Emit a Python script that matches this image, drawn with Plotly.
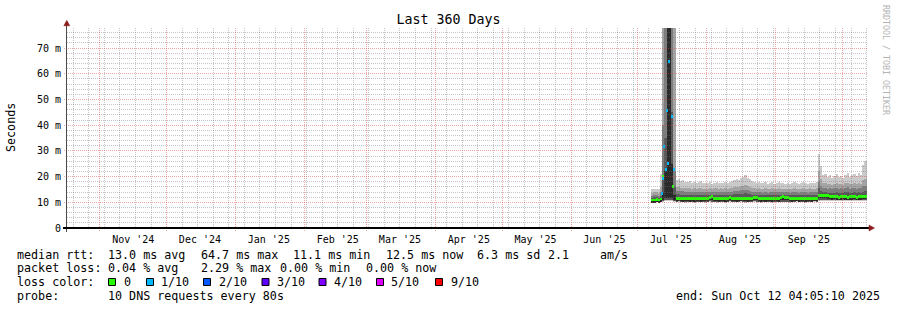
import math
import pandas as pd
import plotly.graph_objects as go

# ---------------- chart data ----------------
TITLE = "Last 360 Days"
Y_AXIS_TITLE = "Seconds"
WATERMARK = "RRDTOOL / TOBI OETIKER"
X_START = "2024-10-17 04:05:10"
X_END = "2025-10-12 04:05:10"
Y_MAX = 77.8

month_starts = ["2024-11-01", "2024-12-01", "2025-01-01", "2025-02-01", "2025-03-01", "2025-04-01",
                "2025-05-01", "2025-06-01", "2025-07-01", "2025-08-01", "2025-09-01", "2025-10-01"]
month_label_dates = ["2024-11-16", "2024-12-16", "2025-01-16", "2025-02-16", "2025-03-16", "2025-04-16",
                     "2025-05-16", "2025-06-16", "2025-07-16", "2025-08-16", "2025-09-16"]
month_labels = ["Nov '24", "Dec '24", "Jan '25", "Feb '25", "Mar '25", "Apr '25",
                "May '25", "Jun '25", "Jul '25", "Aug '25", "Sep '25"]
y_tick_values = [0, 10, 20, 30, 40, 50, 60, 70]
y_tick_labels = ["0", "10 m", "20 m", "30 m", "40 m", "50 m", "60 m", "70 m"]

FIRST_BIN = "2025-07-07 12:00"   # daily bins, Jul 7 .. Oct 11 2025

# smoke layer 1 (outermost, lightest)
outer_bottom = [9.9, 9.9, 10.0, 9.9, 10.1,
                10.3, 10.5, 10.6, 10.6, 10.5, 10.3,
                10.0, 10.1, 10.0, 10.0, 9.9, 10.0, 10.0,
                10.0, 9.9, 10.0, 10.0, 10.1, 10.0, 9.9,
                10.0, 10.1, 10.0, 10.0, 9.9, 10.0, 10.0,
                10.0, 9.9, 10.0, 10.1, 10.0, 10.0, 10.0,
                10.0, 10.1, 10.0, 9.9, 10.0, 10.0, 10.0,
                10.1, 10.0, 10.0, 9.9, 10.0, 10.0, 10.0,
                10.0, 9.9, 10.0, 10.0, 10.1, 10.0, 10.0,
                10.0, 10.0, 9.9, 10.0, 10.0, 10.1, 10.0,
                10.0, 10.0, 9.9, 10.0, 10.0, 10.0, 10.1, 10.0,
                10.5, 10.6, 10.5, 10.4, 10.5, 10.5, 10.4, 10.5, 10.5, 10.4, 10.5,
                10.5, 10.4, 10.5, 10.5, 10.5, 10.4, 10.5, 10.5, 10.4, 10.5, 10.6]
outer_top = [15.0, 15.3, 15.2, 15.0, 21.0,
             200, 200, 200, 200, 200, 200,
             18.5, 19.0, 18.2, 18.6, 17.8, 18.0, 18.4,
             17.6, 18.0, 17.5, 17.8, 18.2, 17.6, 17.4,
             17.5, 17.9, 17.3, 17.6, 18.0, 17.5, 17.7,
             17.6, 18.0, 17.4, 17.8, 18.1, 18.6, 19.0,
             18.7, 19.3, 19.8, 20.5, 19.6, 19.0, 18.4,
             18.0, 17.6, 17.9, 17.5, 17.4, 17.8, 17.2,
             17.6, 17.9, 17.3, 17.5, 17.8, 17.4, 17.6,
             17.3, 17.6, 17.2, 17.5, 17.8, 17.4, 17.2,
             17.6, 17.9, 17.5, 17.3, 17.7, 17.4, 17.6, 17.8,
             28.8, 24.0, 20.5, 21.0, 19.8, 20.6, 19.5, 20.2, 21.2, 19.8, 20.4,
             19.6, 20.8, 21.4, 19.9, 20.5, 21.0, 20.2, 21.3, 20.6, 24.5, 26.0]

# smoke layers 2-4 share one bottom
inner_bottom = [10.1, 10.1, 10.2, 10.1, 10.3,
                10.6, 10.8, 11.0, 11.0, 10.8, 10.5,
                10.3, 10.4, 10.3, 10.3, 10.2, 10.3, 10.3,
                10.3, 10.2, 10.3, 10.3, 10.4, 10.3, 10.2,
                10.3, 10.4, 10.3, 10.3, 10.2, 10.3, 10.3,
                10.3, 10.2, 10.3, 10.4, 10.3, 10.3, 10.3,
                10.3, 10.4, 10.3, 10.2, 10.3, 10.3, 10.3,
                10.4, 10.3, 10.3, 10.2, 10.3, 10.3, 10.3,
                10.3, 10.2, 10.3, 10.3, 10.4, 10.3, 10.3,
                10.3, 10.3, 10.2, 10.3, 10.3, 10.4, 10.3,
                10.3, 10.3, 10.2, 10.3, 10.3, 10.3, 10.4, 10.3,
                10.8, 10.9, 10.8, 10.7, 10.8, 10.8, 10.7, 10.8, 10.8, 10.7, 10.8,
                10.8, 10.7, 10.8, 10.8, 10.8, 10.7, 10.8, 10.8, 10.7, 10.8, 10.9]
band2_top = [13.8, 14.0, 13.9, 13.8, 16.0,
             200, 200, 200, 200, 200, 200,
             15.8, 16.0, 15.6, 15.7, 15.4, 15.5, 15.6,
             15.3, 15.5, 15.2, 15.4, 15.6, 15.3, 15.2,
             15.3, 15.5, 15.2, 15.4, 15.6, 15.3, 15.4,
             15.3, 15.5, 15.2, 15.4, 15.6, 15.8, 16.0,
             15.9, 16.2, 16.4, 16.6, 16.2, 15.9, 15.6,
             15.4, 15.3, 15.5, 15.2, 15.1, 15.4, 15.0,
             15.3, 15.5, 15.1, 15.3, 15.5, 15.2, 15.3,
             15.1, 15.3, 15.0, 15.2, 15.4, 15.2, 15.0,
             15.3, 15.5, 15.2, 15.1, 15.4, 15.2, 15.3, 15.5,
             22.0, 19.0, 17.4, 17.6, 17.0, 17.3, 16.9, 17.2, 17.6, 17.0, 17.3,
             16.9, 17.4, 17.7, 17.0, 17.3, 17.5, 17.1, 17.6, 17.3, 18.5, 19.0]
band3_top = [12.6, 12.7, 12.7, 12.6, 14.0,
             40, 200, 200, 200, 200, 22,
             14.4, 14.5, 14.3, 14.3, 14.1, 14.2, 14.2,
             14.0, 14.1, 13.9, 14.0, 14.2, 14.0, 13.9,
             14.0, 14.1, 13.9, 14.0, 14.2, 14.0, 14.1,
             14.0, 14.1, 13.9, 14.0, 14.2, 14.3, 14.5,
             14.4, 14.6, 14.8, 14.9, 14.6, 14.4, 14.2,
             14.1, 14.0, 14.1, 13.9, 13.8, 14.0, 13.8,
             14.0, 14.1, 13.9, 14.0, 14.1, 13.9, 14.0,
             13.9, 14.0, 13.8, 13.9, 14.1, 13.9, 13.8,
             14.0, 14.1, 13.9, 13.8, 14.0, 13.9, 14.0, 14.1,
             18.0, 16.5, 15.6, 15.7, 15.3, 15.5, 15.2, 15.4, 15.7, 15.3, 15.5,
             15.2, 15.6, 15.8, 15.3, 15.5, 15.6, 15.3, 15.7, 15.5, 16.2, 16.5]
band4_top = [11.8, 11.9, 11.9, 11.8, 12.6,
             20, 35, 200, 200, 45, 16,
             13.1, 13.2, 13.0, 13.0, 12.9, 12.9, 13.0,
             12.8, 12.9, 12.8, 12.9, 13.0, 12.8, 12.8,
             12.9, 13.0, 12.8, 12.9, 13.0, 12.8, 12.9,
             12.8, 12.9, 12.8, 12.9, 13.0, 13.1, 13.2,
             13.1, 13.3, 13.4, 13.5, 13.3, 13.1, 13.0,
             12.9, 12.8, 12.9, 12.8, 12.7, 12.9, 12.7,
             12.8, 12.9, 12.8, 12.8, 12.9, 12.8, 12.8,
             12.7, 12.8, 12.7, 12.8, 12.9, 12.8, 12.7,
             12.8, 12.9, 12.8, 12.7, 12.8, 12.8, 12.8, 12.9,
             15.5, 14.4, 13.9, 14.0, 13.7, 13.8, 13.6, 13.8, 14.0, 13.7, 13.8,
             13.6, 13.9, 14.0, 13.7, 13.8, 13.9, 13.7, 14.0, 13.8, 14.2, 14.4]

# smoke layer 5 (innermost, darkest)
core_bottom = [10.1, 10.1, 10.2, 10.1, 10.4,
               11.0, 11.5, 11.8, 11.8, 11.5, 11.0,
               10.7, 10.6, 10.6, 10.5, 10.6, 10.6, 10.5,
               10.6, 10.5, 10.6, 10.6, 10.5, 10.6, 10.6,
               10.7, 11.1, 11.2, 10.7, 10.6, 10.5, 10.6,
               10.6, 10.5, 10.6, 11.0, 10.6, 10.6, 10.5,
               10.6, 10.7, 10.6, 10.6, 10.5, 10.6, 10.6,
               10.9, 11.0, 10.6, 10.5, 10.6, 10.5, 10.6,
               10.6, 10.5, 10.6, 10.6, 10.5, 11.1, 11.2,
               11.0, 11.1, 10.6, 10.5, 10.6, 10.6, 10.5,
               10.6, 10.6, 10.5, 10.6, 10.6, 10.5, 10.6, 10.6,
               11.9, 11.8, 11.7, 11.7, 11.6, 11.3, 11.2, 11.3, 11.2, 11.1, 11.2,
               11.3, 11.2, 11.1, 11.2, 11.2, 11.3, 11.1, 11.2, 11.2, 11.3, 11.4]
core_top = [10.6, 10.6, 10.7, 10.6, 11.0,
            14, 22, 200, 200, 25, 13,
            11.3, 11.2, 11.2, 11.1, 11.2, 11.2, 11.1,
            11.2, 11.1, 11.2, 11.2, 11.1, 11.2, 11.2,
            11.3, 11.7, 11.8, 11.3, 11.2, 11.1, 11.2,
            11.2, 11.1, 11.2, 11.6, 11.2, 11.2, 11.1,
            11.2, 11.3, 11.2, 11.2, 11.1, 11.2, 11.2,
            11.5, 11.6, 11.2, 11.1, 11.2, 11.1, 11.2,
            11.2, 11.1, 11.2, 11.2, 11.1, 11.7, 11.8,
            11.6, 11.7, 11.2, 11.1, 11.2, 11.2, 11.1,
            11.2, 11.2, 11.1, 11.2, 11.2, 11.1, 11.2, 11.2,
            12.5, 12.4, 12.3, 12.3, 12.2, 11.9, 11.8, 11.9, 11.8, 11.7, 11.8,
            11.9, 11.8, 11.7, 11.8, 11.8, 11.9, 11.7, 11.8, 11.8, 11.9, 12.0]

# daily median (no packet loss); spike days are given separately below
median_ms = [10.9, 10.9, 11.0, 10.9, 11.3,
             None, None, None, None, None, None,
             11.6, 11.5, 11.5, 11.4, 11.5, 11.5, 11.4,
             11.5, 11.4, 11.5, 11.5, 11.4, 11.5, 11.5,
             11.6, 12.0, 12.1, 11.6, 11.5, 11.4, 11.5,
             11.5, 11.4, 11.5, 11.9, 11.5, 11.5, 11.4,
             11.5, 11.6, 11.5, 11.5, 11.4, 11.5, 11.5,
             11.8, 11.9, 11.5, 11.4, 11.5, 11.4, 11.5,
             11.5, 11.4, 11.5, 11.5, 11.4, 12.0, 12.1,
             11.9, 12.0, 11.5, 11.4, 11.5, 11.5, 11.4,
             11.5, 11.5, 11.4, 11.5, 11.5, 11.4, 11.5, 11.5,
             12.8, 12.7, 12.6, 12.6, 12.5, 12.2, 12.1, 12.2, 12.1, 12.0, 12.1,
             12.2, 12.1, 12.0, 12.1, 12.1, 12.2, 12.0, 12.1, 12.1, 12.2, 12.3]

# medians during the mid-July spike, with loss (out of 10 pings)
spike_times = ["2025-07-11 18:30", "2025-07-12 05:00", "2025-07-12 12:00", "2025-07-12 22:30",
               "2025-07-13 17:00", "2025-07-14 07:00", "2025-07-14 18:00", "2025-07-14 22:00",
               "2025-07-16 06:30", "2025-07-16 17:00", "2025-07-17 04:00"]
spike_median_ms = [13.5, 20.2, 19.3, 31.6, 22.6, 45.6, 25.2, 64.7, 43.3, 16.3, 22.6]
spike_loss = [1, 0, 1, 1, 1, 1, 1, 1, 1, 0, 1]

loss_levels = ["0", "1/10", "2/10", "3/10", "4/10", "5/10", "9/10"]
loss_level_values = [0, 1, 2, 3, 4, 5, 9]
loss_level_colors = ["#26ff00", "#00b8ff", "#0059ff", "#5e00ff", "#7e00ff", "#dd00ff", "#ff0000"]

rtt_stats = ["median rtt:", "13.0 ms avg", "64.7 ms max", "11.1 ms min", "12.5 ms now",
             "6.3 ms sd", "2.1", "am/s"]
loss_stats = ["packet loss:", "0.04 % avg", "2.29 % max", "0.00 % min", "0.00 % now"]
probe_text = ["probe:", "10 DNS requests every 80s"]
end_text = "end: Sun Oct 12 04:05:10 2025"

for arr in (outer_bottom, outer_top, inner_bottom, band2_top, band3_top, band4_top,
            core_bottom, core_top, median_ms):
    assert len(arr) == 97, len(arr)

# ---------------- layout constants (pixels) ----------------
W, H = 897, 310
PL, PR, PT, PB = 67, 867, 28, 228
MONO = "DejaVu Sans Mono"
BAND_COLORS = ["#cacaca", "#a4a4a4", "#7e7e7e", "#585858", "#2a2a2a"]
MAJOR_GRID = "rgba(225,60,60,0.45)"
MINOR_GRID = "rgba(120,120,120,0.42)"
DAY_MS = 86400000


def px_x(x):
    return (x - PL) / (PR - PL)


def px_y(y):
    return (PB - y) / (PB - PT)


T0, T1 = pd.Timestamp(X_START), pd.Timestamp(X_END)
SPAN = (T1 - T0).total_seconds()


def time_px(t):
    return PL + (pd.Timestamp(t) - T0).total_seconds() / SPAN * (PR - PL)


def value_px(v):
    return PB - v / Y_MAX * (PB - PT)


days = pd.date_range(FIRST_BIN, periods=len(outer_top), freq="D")
loss_color_of = dict(zip(loss_level_values, loss_level_colors))

fig = go.Figure()


def band(bottom, top, color):
    fig.add_trace(go.Bar(
        x=days, base=bottom, y=[t - b for b, t in zip(bottom, top)], width=DAY_MS,
        marker=dict(color=color, line=dict(width=0)), opacity=1,
        hoverinfo="skip", showlegend=False))


band(outer_bottom, outer_top, BAND_COLORS[0])
band(inner_bottom, band2_top, BAND_COLORS[1])
band(inner_bottom, band3_top, BAND_COLORS[2])
band(inner_bottom, band4_top, BAND_COLORS[3])
band(core_bottom, core_top, BAND_COLORS[4])

MED_HALF = 0.55
med_x = [d for d, m in zip(days, median_ms) if m is not None]
med_v = [m for m in median_ms if m is not None]
fig.add_trace(go.Bar(
    x=med_x, base=[m - MED_HALF for m in med_v], y=[2 * MED_HALF] * len(med_v), width=DAY_MS,
    marker=dict(color=loss_color_of[0], line=dict(width=0)), opacity=1,
    hoverinfo="skip", showlegend=False))
fig.add_trace(go.Bar(
    x=spike_times, base=[m - MED_HALF for m in spike_median_ms],
    y=[2 * MED_HALF] * len(spike_median_ms), width=0.9 * DAY_MS,
    marker=dict(color=[loss_color_of[l] for l in spike_loss], line=dict(width=0)), opacity=1,
    hoverinfo="skip", showlegend=False))

# carrier for the month-label axis
fig.add_trace(go.Scatter(x=[X_START, X_END], y=[0, 0], xaxis="x2", mode="lines",
                         line=dict(width=0), opacity=0, hoverinfo="skip", showlegend=False))

fig.update_layout(
    width=W, height=H,
    margin=dict(l=PL, r=W - PR, t=PT, b=H - PB, pad=0),
    paper_bgcolor="white", plot_bgcolor="white",
    barmode="overlay", bargap=0, showlegend=False,
    font=dict(family=MONO, color="black"),
    title=dict(text=TITLE, x=0.5, xref="container", xanchor="center",
               y=1 - 19 / H, yref="container", yanchor="middle",
               font=dict(family=MONO, size=13.3, color="black")),
    xaxis=dict(type="date", range=[X_START, X_END], tickmode="array", tickvals=month_starts,
               showticklabels=False, ticks="", showgrid=False, zeroline=False, showline=False),
    xaxis2=dict(type="date", overlaying="x", anchor="y", side="bottom", range=[X_START, X_END],
                tickmode="array", tickvals=month_label_dates, ticktext=month_labels,
                showgrid=False, zeroline=False, showline=False, ticks="",
                tickfont=dict(family=MONO, size=10, color="black"), ticklabelstandoff=4),
    yaxis=dict(range=[0, Y_MAX], tickmode="array", tickvals=y_tick_values, ticktext=y_tick_labels,
               showgrid=False, zeroline=False, showline=False, ticks="",
               tickfont=dict(family=MONO, size=10, color="black"), ticklabelstandoff=5),
)

# ---- rrdtool-style dotted grid drawn above the data, snapped to pixel centres ----
weeks = [w for w in pd.date_range("2024-10-20", "2025-10-12", freq="7D")
         if w.strftime("%Y-%m-%d") not in month_starts]
y_minor = [v for v in range(2, 78, 2) if v % 10]
y_major = [v for v in y_tick_values if v > 0]


def vpath(xs, y_top, y_bot):
    segs = []
    for x in xs:
        c = math.floor(x) + 0.5
        segs.append(f"M {px_x(c):.6f},{px_y(y_top):.6f} L {px_x(c):.6f},{px_y(y_bot):.6f}")
    return " ".join(segs)


def hpath(ys, x_left, x_right):
    segs = []
    for y in ys:
        c = math.floor(y) + 0.5
        segs.append(f"M {px_x(x_left):.6f},{px_y(c):.6f} L {px_x(x_right):.6f},{px_y(c):.6f}")
    return " ".join(segs)


def grid(path, color):
    fig.add_shape(type="path", xref="paper", yref="paper", path=path, layer="above",
                  line=dict(color=color, width=1, dash="1px,1px"))


grid(vpath([time_px(w) for w in weeks], PT, PB), MINOR_GRID)
grid(hpath([value_px(v) for v in y_minor], PL, PR), MINOR_GRID)
grid(vpath([time_px(m) for m in month_starts], PT, PB + 3), MAJOR_GRID)
grid(hpath([value_px(v) for v in y_major], PL - 3, PR), MAJOR_GRID)

# axes lines and arrows
fig.add_shape(type="line", xref="paper", yref="paper", x0=px_x(66.5), x1=px_x(66.5),
              y0=px_y(232), y1=px_y(25), line=dict(color="#4a4a4a", width=1))
fig.add_shape(type="line", xref="paper", yref="paper", x0=px_x(63), x1=px_x(869),
              y0=px_y(228), y1=px_y(228), line=dict(color="black", width=2))
ARROW = "#8b1c1c"


def tri(points):
    p = " L ".join(f"{px_x(a):.5f},{px_y(b):.5f}" for a, b in points)
    fig.add_shape(type="path", xref="paper", yref="paper", path=f"M {p} Z",
                  fillcolor=ARROW, line=dict(color=ARROW, width=0.5))


tri([(63.8, 25.8), (69.8, 25.8), (66.8, 20.3)])
tri([(869, 225), (869, 231), (874.5, 228)])


def note(text, x, y, size=11.7, xanchor="left", angle=0, color="black"):
    fig.add_annotation(text=text.replace(" ", "\u00a0"), xref="paper", yref="paper",
                       x=px_x(x), y=px_y(y), xanchor=xanchor, yanchor="middle",
                       showarrow=False, textangle=angle, borderpad=0,
                       font=dict(family=MONO, size=size, color=color))


note(Y_AXIS_TITLE, 11, 127, angle=-90, xanchor="center")
note(WATERMARK, 886, 60, size=8.3, angle=90, xanchor="center", color="#b4b4b4")

rtt_x = [16, 107, 199.5, 292, 385, 476, 547, 598.5]
for t, x in zip(rtt_stats, rtt_x):
    note(t, x, 254.5)
loss_x = [16, 107, 199.5, 278.8, 365]
for t, x in zip(loss_stats, loss_x):
    note(t, x, 268.3)
note("loss color:", 16, 282.3)
box_x = [108, 146, 203, 261.5, 318.5, 376, 435]
lab_x = [122.5, 159.5, 217.5, 276, 332.8, 389.5, 449.5]
for lvl, col, bx, lx in zip(loss_levels, loss_level_colors, box_x, lab_x):
    fig.add_shape(type="rect", xref="paper", yref="paper",
                  x0=px_x(bx + 0.5), x1=px_x(bx + 7.5), y0=px_y(285.5), y1=px_y(278.5),
                  fillcolor=col, line=dict(color="black", width=1))
    note(lvl, lx, 282.3)
note(probe_text[0], 16, 296)
note(probe_text[1], 107, 296)
note(end_text, 880.5, 296, xanchor="right")

fig.write_html("out.html")
